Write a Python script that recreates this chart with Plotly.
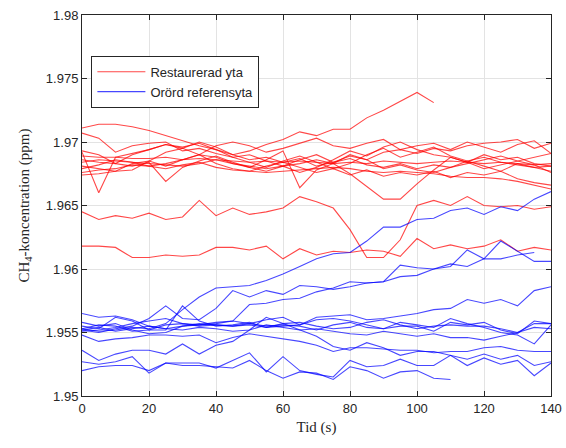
import plotly.graph_objects as go

t = list(range(0, 145, 5))

# Restaurerad yta (red)
red_series = [
    [1.9711,1.9714,1.9714,1.9712,1.9709,1.9705,1.9701,1.9697,1.9694,1.9690,1.9686,1.9688,1.9684,1.9687,1.9681,1.9684,1.9689,1.9686,1.9692,1.9694,1.9691,1.9695,1.9693,1.9697,1.9699,1.9700,1.9702,1.9695,1.9699],
    [1.9707,1.9703,1.9692,1.9697,1.9699,1.9700,1.9693,1.9695,1.9691,1.9688,1.9690,1.9685,1.9681,1.9676,1.9680,1.9686,1.9693,1.9689,1.9696,1.9700,1.9694,1.9690,1.9688,1.9684,1.9679,1.9682,1.9685,1.9688,1.9691],
    [1.9692,1.9660,1.9688,1.9691,1.9694,1.9698,1.9696,1.9699,1.9694,1.9688,1.9684,1.9680,1.9685,1.9689,1.9684,1.9679,1.9683,1.9690,1.9695,1.9688,1.9692,1.9696,1.9689,1.9685,1.9688,1.9684,1.9682,1.9680,1.9681],
    [1.9686,1.9684,1.9683,1.9681,1.9684,1.9669,1.9680,1.9685,1.9689,1.9684,1.9680,1.9677,1.9681,1.9686,1.9690,1.9684,1.9687,1.9682,1.9680,1.9683,1.9679,1.9682,1.9680,1.9685,1.9681,1.9677,1.9683,1.9680,1.9677],
    [1.9679,1.9682,1.9686,1.9684,1.9681,1.9683,1.9686,1.9690,1.9688,1.9683,1.9680,1.9686,1.9693,1.9664,1.9678,1.9683,1.9690,1.9686,1.9679,1.9682,1.9678,1.9676,1.9680,1.9683,1.9686,1.9689,1.9685,1.9682,1.9676],
    [1.9684,1.9686,1.9685,1.9684,1.9683,1.9682,1.9681,1.9683,1.9686,1.9683,1.9681,1.9679,1.9681,1.9683,1.9686,1.9683,1.9675,1.9665,1.9655,1.9655,1.9667,1.9678,1.9688,1.9684,1.9690,1.9686,1.9688,1.9683,1.9681],
    [1.9689,1.9688,1.9688,1.9687,1.9687,1.9688,1.9686,1.9687,1.9686,1.9685,1.9684,1.9685,1.9684,1.9685,1.9684,1.9683,1.9684,1.9683,1.9685,1.9684,1.9683,1.9684,1.9685,1.9684,1.9683,1.9684,1.9683,1.9682,1.9683],
    [1.9676,1.9678,1.9679,1.9682,1.9681,1.9679,1.9682,1.9684,1.9680,1.9678,1.9677,1.9676,1.9677,1.9678,1.9679,1.9680,1.9679,1.9677,1.9676,1.9677,1.9676,1.9675,1.9673,1.9672,1.9672,1.9671,1.9669,1.9666,1.9663],
    [1.9674,1.9675,1.9677,1.9683,1.9685,1.9681,1.9686,1.9690,1.9683,1.9679,1.9677,1.9681,1.9684,1.9680,1.9676,1.9679,1.9674,1.9678,1.9673,1.9676,1.9674,1.9677,1.9672,1.9676,1.9674,1.9677,1.9671,1.9668,1.9666],
    [1.9693,1.9690,1.9683,1.9690,1.9694,1.9698,1.9695,1.9700,1.9696,1.9690,1.9693,1.9698,1.9702,1.9708,1.9705,1.9710,1.9710,1.9719,1.9725,1.9732,1.9739,1.9731],
    [1.9681,1.9679,1.9677,1.9678,1.9685,1.9692,1.9695,1.9690,1.9697,1.9700,1.9697,1.9692,1.9695,1.9699,1.9703,1.9697,1.9695,1.9699,1.9702,1.9694,1.9697,1.9699,1.9694,1.9700,1.9696,1.9692,1.9698,1.9701,1.9691],
    [1.9645,1.9639,1.9642,1.9640,1.9644,1.9639,1.9641,1.9654,1.9642,1.9648,1.9643,1.9645,1.9648,1.9657,1.9653,1.9648,1.9631,1.9609,1.9609,1.9623,1.9650,1.9654,1.9650,1.9657,1.9650,1.9649,1.9650,1.9647,1.9649],
    [1.9618,1.9618,1.9617,1.9609,1.9609,1.9611,1.9610,1.9611,1.9617,1.9617,1.9615,1.9618,1.9608,1.9616,1.9611,1.9614,1.9613,1.9615,1.9614,1.9610,1.9624,1.9616,1.9619,1.9616,1.9618,1.9623,1.9614,1.9617,1.9615],
]

# Orörd referensyta (blue)
blue_series = [
    [1.9553,1.9551,1.9552,1.9554,1.9553,1.9557,1.9568,1.9578,1.9585,1.9586,1.9587,1.9591,1.9596,1.9602,1.9608,1.9612,1.9613,1.9622,1.9633,1.9633,1.9639,1.9640,1.9646,1.9648,1.9643,1.9649,1.9646,1.9655,1.9661],
    [1.9565,1.9562,1.9563,1.9560,1.9555,1.9553,1.9555,1.9556,1.9557,1.9559,1.9572,1.9573,1.9576,1.9577,1.9582,1.9585,1.9590,1.9589,1.9590,1.9594,1.9595,1.9600,1.9604,1.9602,1.9608,1.9622,1.9614,1.9606,1.9606],
    [1.9552,1.9550,1.9553,1.9555,1.9561,1.9571,1.9561,1.9560,1.9569,1.9583,1.9578,1.9583,1.9580,1.9587,1.9586,1.9584,1.9586,1.9589,1.9590,1.9603,1.9601,1.9600,1.9602,1.9615,1.9608,1.9608,1.9611,1.9613],
    [1.9558,1.9555,1.9557,1.9552,1.9549,1.9550,1.9555,1.9557,1.9556,1.9555,1.9557,1.9560,1.9562,1.9556,1.9562,1.9563,1.9564,1.9560,1.9561,1.9563,1.9565,1.9568,1.9569,1.9576,1.9573,1.9576,1.9571,1.9583,1.9586],
    [1.9555,1.9553,1.9562,1.9559,1.9552,1.9552,1.9571,1.9559,1.9555,1.9556,1.9558,1.9554,1.9555,1.9556,1.9560,1.9561,1.9559,1.9556,1.9553,1.9555,1.9555,1.9551,1.9558,1.9556,1.9558,1.9552,1.9549,1.9559,1.9557],
    [1.9548,1.9543,1.9545,1.9546,1.9548,1.9548,1.9547,1.9548,1.9542,1.9546,1.9549,1.9547,1.9545,1.9543,1.9540,1.9535,1.9538,1.9538,1.9537,1.9536,1.9536,1.9534,1.9535,1.9535,1.9538,1.9539,1.9536,1.9535,1.9535],
    [1.9553,1.9556,1.9555,1.9551,1.9552,1.9556,1.9557,1.9556,1.9558,1.9559,1.9557,1.9555,1.9556,1.9555,1.9552,1.9556,1.9558,1.9554,1.9553,1.9558,1.9556,1.9554,1.9561,1.9557,1.9554,1.9550,1.9548,1.9541,1.9556],
    [1.9551,1.9552,1.9554,1.9557,1.9559,1.9561,1.9557,1.9555,1.9556,1.9555,1.9556,1.9554,1.9557,1.9558,1.9555,1.9553,1.9554,1.9558,1.9560,1.9556,1.9553,1.9555,1.9556,1.9555,1.9555,1.9553,1.9550,1.9557,1.9557],
    [1.9536,1.9528,1.9533,1.9536,1.9536,1.9533,1.9541,1.9533,1.9540,1.9543,1.9552,1.9562,1.9557,1.9552,1.9547,1.9539,1.9536,1.9542,1.9538,1.9532,1.9535,1.9535,1.9532,1.9529,1.9533,1.9529,1.9532,1.9524,1.9527],
    [1.9527,1.9525,1.9527,1.9531,1.9518,1.9526,1.9526,1.9526,1.9522,1.9528,1.9534,1.9519,1.9531,1.9520,1.9517,1.9515,1.9528,1.9523,1.9524,1.9529,1.9524,1.9524,1.9532,1.9524,1.9530,1.9525,1.9528,1.9516,1.9526],
    [1.9520,1.9523,1.9524,1.9524,1.9520,1.9526,1.9524,1.9524,1.9523,1.9522,1.9528,1.9520,1.9514,1.9519,1.9518,1.9513,1.9523,1.9520,1.9514,1.9519,1.9520,1.9514,1.9513],
    [1.9552,1.9554,1.9551,1.9553,1.9555,1.9553,1.9552,1.9554,1.9553,1.9551,1.9552,1.9556,1.9554,1.9552,1.9553,1.9551,1.9549,1.9548,1.9551,1.9549,1.9547,1.9549,1.9546,1.9546,1.9544,1.9547,1.9550,1.9554,1.9553],
]

red_name = "Restaurerad yta"
blue_name = "Orörd referensyta"
red_color = "rgba(255,0,0,0.72)"
blue_color = "rgba(0,0,255,0.72)"

x_ticks = [0, 20, 40, 60, 80, 100, 120, 140]
y_ticks = [1.95, 1.955, 1.96, 1.965, 1.97, 1.975, 1.98]
y_tick_text = ["1.95", "1.955", "1.96", "1.965", "1.97", "1.975", "1.98"]

fig = go.Figure()
for i, ys in enumerate(red_series):
    fig.add_trace(go.Scatter(x=t[:len(ys)], y=ys, mode="lines", name=red_name,
                             legendgroup="r", showlegend=(i == 0),
                             line=dict(color=red_color, width=1.1)))
for i, ys in enumerate(blue_series):
    fig.add_trace(go.Scatter(x=t[:len(ys)], y=ys, mode="lines", name=blue_name,
                             legendgroup="b", showlegend=(i == 0),
                             line=dict(color=blue_color, width=1.1)))

axis_common = dict(showline=True, linecolor="#262626", linewidth=1, mirror="ticks",
                   ticks="inside", ticklen=5, tickcolor="#262626", automargin=False,
                   showgrid=True, gridcolor="#e3e3e3", gridwidth=1, zeroline=False,
                   tickfont=dict(family="Liberation Sans, Arial, sans-serif", size=13, color="#262626"))

fig.update_xaxes(range=[0, 140], tickvals=x_ticks,
                 title=dict(text="Tid (s)", font=dict(family="Liberation Serif, serif", size=15, color="#262626"), standoff=6),
                 **axis_common)
fig.update_yaxes(range=[1.95, 1.98], tickvals=y_ticks, ticktext=y_tick_text,
                 title=dict(text="CH<sub>4</sub>-koncentration (ppm)", font=dict(family="Liberation Serif, serif", size=15, color="#262626"), standoff=12),
                 **axis_common)

fig.update_layout(
    width=566, height=448,
    margin=dict(l=82, r=15, t=15, b=52),
    plot_bgcolor="white", paper_bgcolor="white",
    legend=dict(x=0.02, y=0.893, xanchor="left", yanchor="top",
                bgcolor="white", bordercolor="#262626", borderwidth=1,
                font=dict(family="Liberation Sans, Arial, sans-serif", size=13, color="#262626"),
                tracegroupgap=0, itemwidth=48),
)

fig.write_html("out.html")
